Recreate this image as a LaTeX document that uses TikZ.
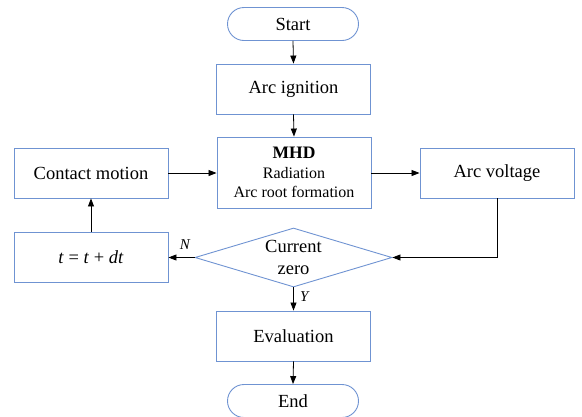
\documentclass[tikz,border=0pt]{standalone}
\usepackage{fontspec}
\setmainfont{Liberation Serif}
\usepackage{tikz}
\usetikzlibrary{positioning}
\usetikzlibrary{shapes.geometric}
\usetikzlibrary{arrows.meta}
\usepackage{xcolor}
\definecolor{boxblue}{RGB}{111,147,210}

\begin{document}
\begin{tikzpicture}[
		x=1pt, y=1pt,
		blk/.style = {rectangle, draw=boxblue, line width=0.9pt, minimum width=154pt, minimum height=50pt, inner sep=0pt, align=center, font=\fontsize{18.5}{22.5}\selectfont},
		term/.style = {blk, minimum width=131pt, minimum height=33pt, rounded corners=16.5pt},
		dec/.style = {diamond, draw=boxblue, line width=0.9pt, minimum width=197pt, minimum height=59pt, aspect=3.34, inner sep=0pt, align=center, font=\fontsize{18.5}{22.5}\selectfont},
		r/.style = {-{Triangle[length=8pt,width=6pt]}, line width=0.8pt},
		lbl/.style = {font=\fontsize{15}{18}\selectfont\itshape}
		]
		\useasboundingbox (0,0) rectangle (582,-416);

		%Nodes
		\node[term]	(start)	at	(293, -24)		{Start};
		\node[blk]	(ign)		at	(293.5, -89)	{Arc ignition};
		\node[blk, minimum height=71pt, font=\fontsize{16}{19.5}\selectfont]	(mhd)	at	(294, -172.5)
			{{\fontsize{17.5}{19.5}\selectfont\bfseries MHD}\\Radiation\\Arc root formation};
		\node[blk]	(motion)	at	(91, -173)		{Contact motion};
		\node[blk]	(volt)	at	(497, -173)		{Arc voltage};
		\node[blk]	(step)	at	(91, -257.5)	{\textit{t} = \textit{t} + \textit{dt}};
		\node[dec]	(zero)	at	(293.5, -257.5)	{Current\\zero};
		\node[blk]	(eval)	at	(293.5, -336)	{Evaluation};
		\node[term]	(end)		at	(293, -401)		{End};

		%Lines
		\draw[r]	(start.south)	--	(ign.north);
		\draw[r]	(ign.south)		--	(mhd.north);
		\draw[r]	(motion.east)	--	(motion.east -| mhd.west);
		\draw[r]	(mhd.east |- volt.west)	--	(volt.west);
		\draw[r]	(volt.south)	|-	(zero.east);
		\draw[r]	(zero.west)		--	node[lbl, above=4pt, pos=0.37]	{N}	(step.east);
		\draw[r]	(step.north)	--	(motion.south);
		\draw[r]	(zero.south)	--	node[lbl, right=3pt, pos=0.4]	{Y}	(eval.north);
		\draw[r]	(eval.south)	--	(end.north);
	\end{tikzpicture}
\end{document}
